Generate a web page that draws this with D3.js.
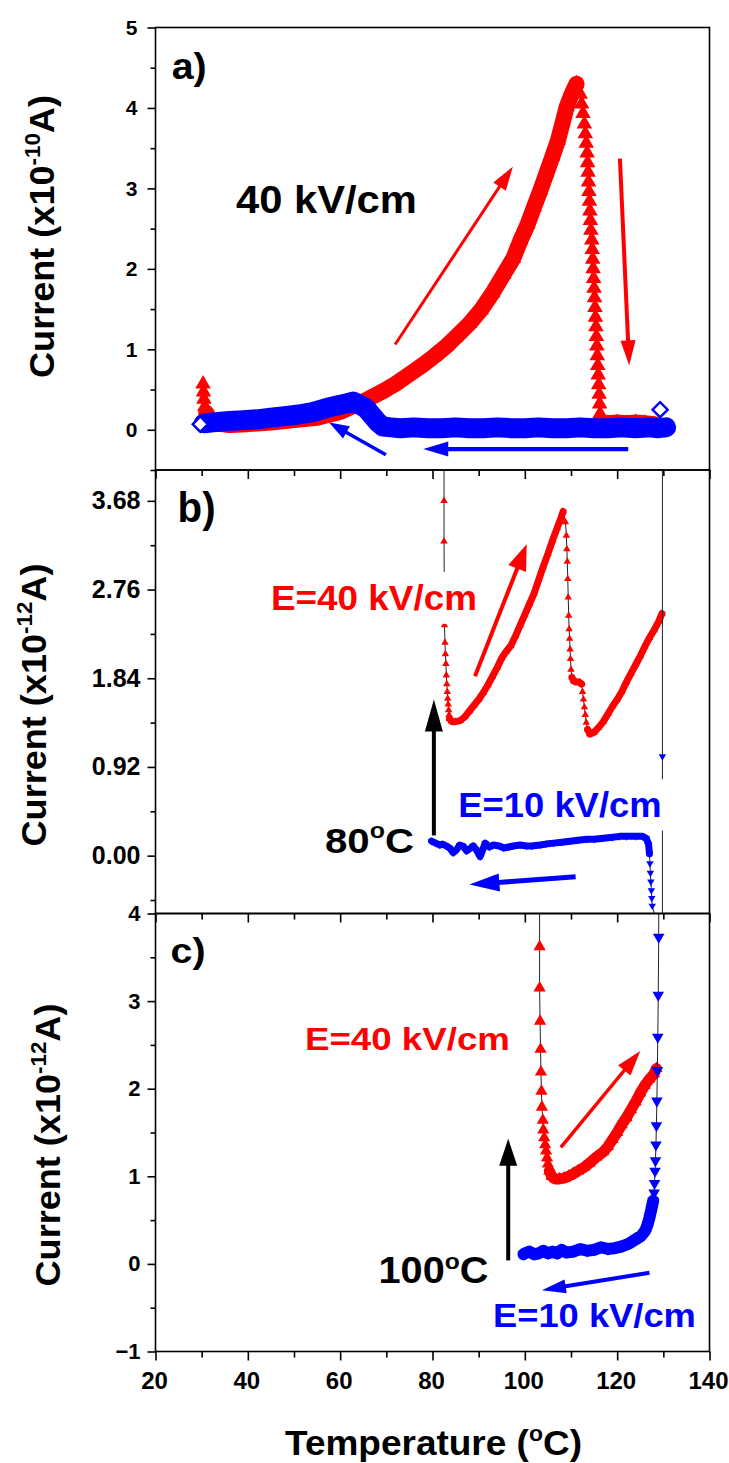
<!DOCTYPE html>
<html>
<head>
<meta charset="utf-8">
<script src="https://cdnjs.cloudflare.com/ajax/libs/d3/7.8.5/d3.min.js"></script>
<style>
  body { margin: 0; background: #fff; }
  svg { display: block; }
</style>
</head>
<body>
<svg id="chart"></svg>
<script>
// ---------------- data ----------------
var xTicks = [20, 40, 60, 80, 100, 120, 140];
var yTicksA = [0, 1, 2, 3, 4, 5];
var yTicksB = [0, 0.92, 1.84, 2.76, 3.68];
var yTicksC = [-1, 0, 1, 2, 3, 4];

// panel a, heating at 40 kV/cm (red)
var redA_T = [30.3, 30.4, 30.5, 30.7, 31.0, 31.6, 33, 36, 40, 45, 50, 55, 60, 63, 66, 69, 72, 75, 78, 80.5,
  83, 85, 88, 90.5, 93, 95.4, 97.5, 99.1, 100.6, 102, 103.4, 104.7, 106, 107.2, 108.2, 109.1, 110.2, 111.2,
  112.0, 112.3, 112.6, 112.9, 113.1, 113.3, 113.5, 113.6, 113.7, 113.8, 113.9, 114.0, 114.1, 114.2, 114.3,
  114.5, 114.6, 114.7, 114.8, 114.9, 115.0, 115.1, 115.2, 115.3, 115.4, 115.5, 115.6, 115.7, 115.8, 115.9,
  116.0, 116.1, 116.2, 116.3, 116.4, 118, 120, 122, 124, 126, 128, 130.6];
var redA_I = [0.57, 0.47, 0.38, 0.29, 0.21, 0.14, 0.08, 0.06, 0.07, 0.09, 0.12, 0.15, 0.22, 0.3, 0.38, 0.47, 0.57, 0.69, 0.81, 0.92,
  1.04, 1.15, 1.32, 1.49, 1.7, 1.93, 2.13, 2.36, 2.55, 2.77, 2.98, 3.19, 3.4, 3.6, 3.82, 4.02, 4.18, 4.3,
  4.17, 4.05, 3.93, 3.8, 3.68, 3.56, 3.44, 3.32, 3.2, 3.08, 2.96, 2.84, 2.72, 2.6, 2.48,
  2.36, 2.24, 2.12, 2.0, 1.88, 1.76, 1.64, 1.52, 1.4, 1.28, 1.16, 1.04, 0.92, 0.8, 0.68,
  0.56, 0.44, 0.32, 0.2, 0.09, 0.08, 0.09, 0.08, 0.09, 0.08, 0.07, 0.03];

// panel a, cooling (blue)
var blueA_T = [130.6, 129, 127, 124, 121, 118, 115, 112, 109, 106, 103, 100, 97, 94, 91, 88, 85, 82, 79, 76,
  73, 71, 69.3, 68.2, 67, 65.7, 64.3, 62.8, 61.5, 60, 57, 54, 51, 48, 45, 42, 39, 36, 33, 30.5];
var blueA_I = [0.03, 0.02, 0.03, 0.02, 0.03, 0.02, 0.02, 0.03, 0.02, 0.02, 0.03, 0.02, 0.02, 0.03, 0.02, 0.02, 0.03, 0.02, 0.02, 0.03,
  0.02, 0.03, 0.04, 0.09, 0.17, 0.26, 0.31, 0.35, 0.33, 0.31, 0.27, 0.22, 0.19, 0.17, 0.15, 0.13, 0.12, 0.11, 0.095, 0.08];
var blueAEnd_T = [29.7, 129.3];
var blueAEnd_I = [0.07, 0.25];

// panel b, E = 40 kV/cm (red)
var redB_T = [82.5, 82.5, 82.5, 82.6, 82.7, 82.8, 82.9, 83.0, 83.1, 83.2, 83.3, 83.4, 83.5, 83.6, 83.7, 84.2,
  85, 86, 87, 88, 89, 90, 91, 92, 93, 94, 95, 96, 97, 98, 99, 100, 101, 102, 103, 104, 105, 106, 107, 107.8, 108.3,
  108.8, 109.0, 109.1, 109.2, 109.3, 109.4, 109.5, 109.6, 109.7, 109.8, 109.9, 110.0, 110.2, 110.6, 111.2, 111.8,
  112.3, 112.5, 112.7, 112.9, 113.1, 113.3, 113.6, 114.1, 115, 116, 117, 118, 119, 120, 121, 122, 123, 124, 125,
  126, 127, 128, 129, 129.7];
var redB_I = [4.6, 3.68, 3.26, 2.39, 2.21, 2.09, 1.99, 1.87, 1.78, 1.7, 1.63, 1.57, 1.51, 1.46, 1.42, 1.39,
  1.39, 1.4, 1.44, 1.5, 1.56, 1.62, 1.69, 1.77, 1.86, 1.95, 2.05, 2.12, 2.18, 2.28, 2.39, 2.5, 2.61, 2.72, 2.86, 3.0, 3.13, 3.27, 3.4, 3.5, 3.57,
  3.46, 3.32, 3.18, 3.05, 2.87, 2.68, 2.49, 2.35, 2.25, 2.14, 2.04, 1.93, 1.85, 1.81, 1.8, 1.8,
  1.78, 1.7, 1.62, 1.54, 1.46, 1.38, 1.31, 1.26, 1.28, 1.33, 1.39, 1.47, 1.55, 1.62, 1.7, 1.8, 1.89, 1.98, 2.07,
  2.17, 2.26, 2.34, 2.43, 2.51];

// panel b, E = 10 kV/cm (blue)
var blueB_T = [129.8, 129.8, 129.8, 127.6, 127.5, 127.4, 127.3, 127.2, 127.1, 127.0, 126.8, 126.3, 125.5, 124, 122,
  120.5, 119, 117, 115, 113.4, 111.5, 109.8, 108, 106.2, 104.5, 103.3, 101.5, 100.4, 99, 97.5, 96.5, 95.4, 94.5,
  93.2, 92.3, 91.4, 90.8, 90.3, 89.5, 88.8, 88, 87.4, 86.6, 85.9, 85.2, 84.5, 83.7, 83.0, 82.2, 81.6, 80.7, 79.8];
var blueB_I = [4.6, 1.03, -0.9, -0.52, -0.44, -0.36, -0.27, -0.18, -0.08, 0.02, 0.12, 0.18, 0.2, 0.2, 0.2,
  0.2, 0.19, 0.18, 0.17, 0.17, 0.16, 0.15, 0.14, 0.13, 0.12, 0.11, 0.1, 0.1, 0.11, 0.1, 0.09, 0.08, 0.1,
  0.11, 0.09, 0.13, 0.05, -0.01, 0.06, 0.1, 0.07, 0.05, 0.1, 0.11, 0.06, 0.03, 0.08, 0.1, 0.12, 0.11, 0.13, 0.15];

// panel c, E = 40 kV/cm (red)
var redC_T = [103.2, 103.2, 103.2, 103.3, 103.4, 103.5, 103.6, 103.7, 103.9, 104.0, 104.2, 104.4, 104.6, 104.8,
  105.0, 105.3, 105.8, 106.6, 107.5, 108.5, 109.5, 110.5, 111.5, 112.8, 114, 115.5, 117, 118, 119, 120, 121,
  122, 123, 124, 125, 126, 127, 128, 128.5];
var redC_I = [4.4, 3.62, 3.15, 2.77, 2.45, 2.19, 1.97, 1.79, 1.64, 1.53, 1.44, 1.36, 1.29, 1.21,
  1.14, 1.06, 1.0, 0.97, 0.97, 0.98, 1.0, 1.03, 1.06, 1.1, 1.15, 1.22, 1.28, 1.34, 1.42, 1.5, 1.59,
  1.67, 1.76, 1.85, 1.95, 2.04, 2.11, 2.17, 2.23];

// panel c, E = 10 kV/cm (blue)
var blueC_T = [129.0, 129.0, 128.9, 128.8, 128.7, 128.6, 128.5, 128.4, 128.3, 128.2, 128.1, 128.0, 127.8, 127.4,
  127.0, 126.6, 126.1, 125.2, 124, 122.5, 121, 119.5, 118, 116.5, 115, 113.5, 112, 110.5, 109, 108, 107, 106,
  105, 104, 103, 102, 101, 100, 99.7];
var blueC_I = [4.4, 3.73, 3.07, 2.59, 2.21, 1.86, 1.58, 1.36, 1.18, 1.06, 0.92, 0.81, 0.72, 0.62,
  0.53, 0.45, 0.38, 0.32, 0.28, 0.23, 0.2, 0.18, 0.17, 0.19, 0.16, 0.15, 0.17, 0.14, 0.13, 0.16, 0.12, 0.14,
  0.12, 0.15, 0.12, 0.11, 0.14, 0.12, 0.11];

// arrows [T1, I1, T2, I2] (tail -> tip)
var arrowsA = [[71.9, 1.06, 97.4, 3.27], [120.6, 3.37, 122.6, 0.80], [69.9, -0.31, 57.6, 0.09], [122.4, -0.24, 78.0, -0.24]];
var arrowsB = [[80.3, 0.21, 80.3, 1.62], [89.2, 1.86, 100.4, 3.23], [111.0, -0.22, 88.0, -0.30]];
var arrowsC = [[96.4, 0.04, 96.4, 1.43], [107.8, 1.33, 125.0, 2.43], [127.0, -0.10, 103.7, -0.30]];

// ---------------- setup ----------------
var width = 729;
var height = 1463;
var left = 155.5;
var right = 709.5;
var font = "'Liberation Sans', Arial, Helvetica, sans-serif";
var RED = "#ff0000";
var BLUE = "#0000ff";

var svg = d3.select("#chart");
svg.attr("width", width);
svg.attr("height", height);
svg.attr("font-family", font);
svg.attr("font-weight", "bold");

var x = d3.scaleLinear().domain([20, 140]).range([left, right]);
var yA = d3.scaleLinear().domain([-0.5, 5]).range([470, 27.5]);
var yB = d3.scaleLinear().domain([-0.6, 4.0]).range([913.5, 470]);
var yC = d3.scaleLinear().domain([-1, 4]).range([1351.5, 913.5]);

var defs = svg.append("defs");

function clipFor(id, yScale) {
  var r = yScale.range();
  defs.append("clipPath").attr("id", id).append("rect")
    .attr("x", left).attr("y", r[1]).attr("width", right - left).attr("height", r[0] - r[1]);
  return svg.append("g").attr("clip-path", "url(#" + id + ")");
}

// left axis with major + minor ticks
function leftAxis(yScale, major, minor, fmt, size, pad) {
  var g = svg.append("g").attr("transform", "translate(" + left + ",0)");
  g.call(d3.axisLeft(yScale).tickValues(major).tickSize(8).tickSizeOuter(0).tickPadding(pad).tickFormat(fmt));
  g.attr("font-size", size).attr("font-family", font).attr("font-weight", "bold");
  g.select(".domain").remove();
  g.selectAll("line").attr("stroke", "#000").attr("stroke-width", 1.6);
  g.selectAll("text").attr("fill", "#000");

  var m = svg.append("g").attr("transform", "translate(" + left + ",0)");
  m.call(d3.axisLeft(yScale).tickValues(minor).tickSize(5).tickSizeOuter(0).tickFormat(""));
  m.select(".domain").remove();
  m.selectAll("line").attr("stroke", "#000").attr("stroke-width", 1.6);
}

// bottom ticks (downwards), labels only on the last panel
function bottomAxis(yPos, labels) {
  var g = svg.append("g").attr("transform", "translate(0," + yPos + ")");
  var ax = d3.axisBottom(x).tickValues(xTicks).tickSize(9).tickSizeOuter(0).tickPadding(11.5);
  if (!labels) ax.tickFormat("");
  g.call(ax);
  g.attr("font-size", 24).attr("font-family", font).attr("font-weight", "bold");
  g.select(".domain").remove();
  g.selectAll("line").attr("stroke", "#000").attr("stroke-width", 1.6);
  g.selectAll("text").attr("fill", "#000").attr("dx", -1.5);

  var minor = xTicks.slice(1).map(function (d) { return d - 10; });
  var m = svg.append("g").attr("transform", "translate(0," + yPos + ")");
  m.call(d3.axisBottom(x).tickValues(minor).tickSize(6).tickSizeOuter(0).tickFormat(""));
  m.select(".domain").remove();
  m.selectAll("line").attr("stroke", "#000").attr("stroke-width", 1.6);
}

// one series: thin connecting line, thick band for dense runs, then the symbols
function drawSeries(g, xs, ys, yScale, o) {
  var pts = xs.map(function (d, i) { return [x(d), yScale(ys[i])]; });

  var line = g.append("path");
  line.attr("d", d3.line()(pts));
  line.attr("fill", "none");
  line.attr("stroke", "#222");
  line.attr("stroke-width", 1);

  o.bands.forEach(function (b) {
    var band = g.append("path");
    band.attr("d", d3.line()(pts.slice(b[0], b[1] + 1)));
    band.attr("fill", "none");
    band.attr("stroke", o.color);
    band.attr("stroke-width", o.band);
    band.attr("stroke-linejoin", "round");
    band.attr("stroke-linecap", "round");
  });

  g.selectAll(null).data(pts).enter().append("path")
    .attr("transform", function (p) { return "translate(" + p[0] + "," + p[1] + ") rotate(" + o.rot + ")"; })
    .attr("d", d3.symbol().type(o.symbol).size(o.size))
    .attr("fill", o.color);
}

function drawArrow(yScale, a, color, w, hl, hw) {
  var x1 = x(a[0]), y1 = yScale(a[1]), x2 = x(a[2]), y2 = yScale(a[3]);
  var dx = x2 - x1, dy = y2 - y1;
  var len = Math.sqrt(dx * dx + dy * dy);
  var ux = dx / len, uy = dy / len;
  var bx = x2 - ux * hl, by = y2 - uy * hl;

  var shaft = svg.append("line");
  shaft.attr("x1", x1).attr("y1", y1);
  shaft.attr("x2", bx + ux * 3).attr("y2", by + uy * 3);
  shaft.attr("stroke", color);
  shaft.attr("stroke-width", w);

  var head = svg.append("path");
  head.attr("d", "M" + x2 + "," + y2 +
    "L" + (bx - uy * hw / 2) + "," + (by + ux * hw / 2) +
    "L" + (bx + uy * hw / 2) + "," + (by - ux * hw / 2) + "Z");
  head.attr("fill", color);
}

// text with optional superscripts, squeezed/stretched to a measured width
function addText(o) {
  var g = svg.append("g");
  var t = g.append("text");
  t.attr("font-size", o.size);
  t.attr("fill", o.color || "#000");
  t.attr("text-anchor", o.anchor || "start");
  var raise = o.size * 0.4;
  var lastSup = false;
  o.parts.forEach(function (p) {
    var s = t.append("tspan").text(p.t);
    if (p.sup) {
      s.attr("font-size", o.size * 0.62).attr("dy", -raise);
    } else if (lastSup) {
      s.attr("dy", raise);
    }
    lastSup = !!p.sup;
  });
  var w = t.node().getComputedTextLength();
  var k = o.width ? o.width / w : 1;
  var tr = "translate(" + o.x + "," + o.y + ")";
  if (o.rotate) tr += " rotate(" + o.rotate + ")";
  tr += " scale(" + k + ",1)";
  g.attr("transform", tr);
  if (o.box) {
    var bb = t.node().getBBox();
    g.insert("rect", "text")
      .attr("x", bb.x - 6 / k).attr("y", bb.y - 6)
      .attr("width", bb.width + 12 / k).attr("height", bb.height + 12)
      .attr("fill", "#fff");
  }
  return g;
}

// ---------------- axes ----------------
function halfSteps(lo, hi, step) {
  var out = [];
  for (var v = lo; v <= hi + 1e-9; v += step) out.push(+v.toFixed(3));
  return out;
}

leftAxis(yA, yTicksA, halfSteps(-0.5, 4.5, 1), d3.format("d"), 21, 10);
leftAxis(yB, yTicksB, halfSteps(-0.46, 3.22, 0.92), d3.format(".2f"), 25, 7);
leftAxis(yC, yTicksC, halfSteps(-0.5, 3.5, 1), d3.format("d"), 22, 7);

bottomAxis(470, false);
bottomAxis(913.5, false);
bottomAxis(1351.5, true);

// ---------------- data marks ----------------
var gA = clipFor("clipA", yA);
drawSeries(gA, redA_T, redA_I, yA, { color: RED, symbol: d3.symbolTriangle, rot: 0, size: 105, band: 16, bands: [[4, 37], [72, 79]] });
drawSeries(gA, blueA_T, blueA_I, yA, { color: BLUE, symbol: d3.symbolSquare, rot: 45, size: 115, band: 20, bands: [[0, 39]] });
gA.selectAll(null).data(blueAEnd_T).enter().append("path")
  .attr("transform", function (d, i) { return "translate(" + x(d) + "," + yA(blueAEnd_I[i]) + ") rotate(45)"; })
  .attr("d", d3.symbol().type(d3.symbolSquare).size(115))
  .attr("fill", "#fff")
  .attr("stroke", BLUE)
  .attr("stroke-width", 2.4);

var gB = clipFor("clipB", yB);
drawSeries(gB, redB_T, redB_I, yB, { color: RED, symbol: d3.symbolTriangle, rot: 0, size: 24, band: 7, bands: [[14, 40], [53, 57], [63, 80]] });
drawSeries(gB, blueB_T, blueB_I, yB, { color: BLUE, symbol: d3.symbolTriangle, rot: 180, size: 24, band: 7, bands: [[9, 51]] });

var gC = clipFor("clipC", yC);
drawSeries(gC, redC_T, redC_I, yC, { color: RED, symbol: d3.symbolTriangle, rot: 0, size: 65, band: 11, bands: [[15, 38]] });
drawSeries(gC, blueC_T, blueC_I, yC, { color: BLUE, symbol: d3.symbolTriangle, rot: 180, size: 58, band: 12, bands: [[12, 38]] });

// ---------------- frames ----------------
[yA, yB, yC].forEach(function (s) {
  var r = s.range();
  var f = svg.append("rect");
  f.attr("x", left).attr("y", r[1]);
  f.attr("width", right - left).attr("height", r[0] - r[1]);
  f.attr("fill", "none");
  f.attr("stroke", "#000");
  f.attr("stroke-width", 1.6);
});

// ---------------- arrows ----------------
drawArrow(yA, arrowsA[0], RED, 3, 24, 15);
drawArrow(yA, arrowsA[1], RED, 4, 25, 15);
drawArrow(yA, arrowsA[2], BLUE, 3.5, 20, 14);
drawArrow(yA, arrowsA[3], BLUE, 4.3, 25, 15);

drawArrow(yB, arrowsB[0], "#000", 4, 32, 18);
drawArrow(yB, arrowsB[1], RED, 4, 26, 19);
drawArrow(yB, arrowsB[2], BLUE, 5, 30, 18);

drawArrow(yC, arrowsC[0], "#000", 4, 27, 18);
drawArrow(yC, arrowsC[1], RED, 3.5, 25, 16);
drawArrow(yC, arrowsC[2], BLUE, 4, 24, 14);

// ---------------- labels ----------------
addText({ x: 171.7, y: 79, size: 37, width: 35, parts: [{ t: "a)" }] });
addText({ x: 236, y: 213.3, size: 39, width: 181, parts: [{ t: "40 kV/cm" }] });

addText({ x: 177.6, y: 522, size: 42, width: 38, parts: [{ t: "b)" }] });
addText({ x: 271, y: 610, size: 35, width: 206, color: RED, box: true, parts: [{ t: "E=40 kV/cm" }] });
addText({ x: 458.3, y: 816.7, size: 35, width: 203.4, color: BLUE, box: true, parts: [{ t: "E=10 kV/cm" }] });
addText({ x: 325, y: 852.7, size: 36, width: 89, parts: [{ t: "80" }, { t: "o", sup: true }, { t: "C" }] });

addText({ x: 170.6, y: 962.5, size: 35, width: 35, parts: [{ t: "c)" }] });
addText({ x: 305, y: 1050, size: 32, width: 205, color: RED, parts: [{ t: "E=40 kV/cm" }] });
addText({ x: 378.5, y: 1283.3, size: 37, width: 110, parts: [{ t: "100" }, { t: "o", sup: true }, { t: "C" }] });
addText({ x: 493, y: 1326.7, size: 33, width: 203, color: BLUE, parts: [{ t: "E=10 kV/cm" }] });

// axis titles
addText({ x: 54, y: 236.5, size: 35, width: 283, anchor: "middle", rotate: -90,
  parts: [{ t: "Current (x10" }, { t: "-10", sup: true }, { t: "A)" }] });
addText({ x: 46, y: 705, size: 35, width: 283, anchor: "middle", rotate: -90,
  parts: [{ t: "Current (x10" }, { t: "-12", sup: true }, { t: "A)" }] });
addText({ x: 60, y: 1145, size: 35, width: 283, anchor: "middle", rotate: -90,
  parts: [{ t: "Current (x10" }, { t: "-12", sup: true }, { t: "A)" }] });
addText({ x: 433.5, y: 1455, size: 35, width: 297, anchor: "middle",
  parts: [{ t: "Temperature (" }, { t: "o", sup: true }, { t: "C)" }] });
</script>
</body>
</html>
